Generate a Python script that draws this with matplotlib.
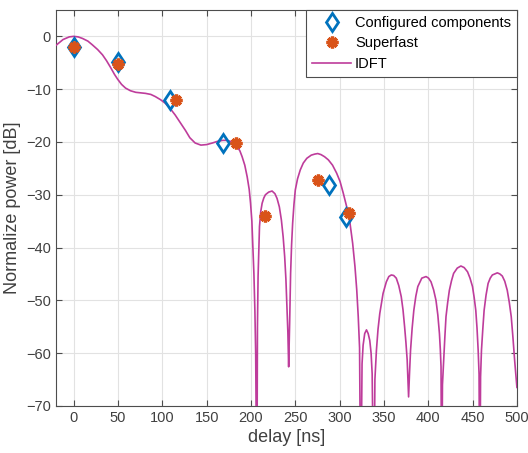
import matplotlib
matplotlib.use('Agg')
import matplotlib.pyplot as plt
import numpy as np

plt.rcParams['font.family'] = ['Liberation Sans', 'DejaVu Sans']

# configured multipath components (delay in ns, power in dB)
comp_delay = [0, 50, 108.5, 168.7, 288.2, 307.6]
comp_power = [-2.1, -4.8, -12.0, -20.2, -28.1, -34.2]

# superfast estimates
sf_delay = [0, 50.4, 115.4, 182.7, 216.3, 276.1, 310.9]
sf_power = [-2.0, -5.2, -12.1, -20.2, -34.0, -27.3, -33.5]

# IDFT power delay profile
idft_delay = [-20, -12, -5, 0, 5, 10, 16, 21, 27, 32.5, 37, 42, 46, 49.5, 54, 58.5, 64, 70, 76, 81,
              87, 92, 98, 103.5, 109, 114.5, 120, 126, 131, 137, 143.5, 150, 156.5, 162, 168, 173,
              177, 181, 184.5, 187.5, 190, 193, 195.7, 198, 199.5, 201, 202, 203.3, 204.4, 205.3,
              206.6, 207.3, 208, 209.6, 211, 212.6, 214.5, 216.3, 220, 223.8, 227, 229.4, 232,
              234.3, 236.3, 238, 239.4, 240.6, 241.6, 242.5, 243.6, 244.7, 245.8, 247, 248.5, 250,
              252.5, 255.6, 259, 263, 268, 272, 275.3, 279, 283, 287.3, 292, 296.6, 300.5, 304.1,
              308, 311.7, 314.7, 317.3, 319.3, 321, 322.5, 323.8, 325.3, 326.5, 328.3, 330.3,
              332.2, 334, 335.5, 336.7, 338.6, 339.8, 341.5, 343.3, 345.3, 349, 352.7, 355.5,
              358.3, 361, 363.9, 366.7, 369.5, 371.5, 373.3, 374.8, 376.2, 377.8, 378.8, 380,
              381.8, 383.7, 386, 388.2, 392.7, 397.5, 400.3, 403.1, 406, 408.7, 410.8, 412.6,
              413.6, 414.4, 415.1, 416, 417.4, 418.7, 420, 421.9, 423.8, 426.2, 428.6, 432.7,
              436.8, 440.5, 444.3, 447.1, 449.9, 451.8, 453.6, 455, 456.3, 457.3, 458.1, 459,
              460, 461.5, 463, 465.2, 467.5, 469.9, 472.3, 477.9, 480.7, 483.5, 486.3, 489.1,
              491.4, 493.6, 495.5, 497.5, 500]
idft_power = [-1.7, -0.6, -0.1, 0, -0.1, -0.4, -0.9, -1.6, -2.5, -3.5, -4.6, -6.0, -7.2, -8.1, -9.1,
              -9.8, -10.3, -10.6, -10.7, -10.8, -11.0, -11.4, -12.0, -12.7, -13.7, -14.9, -16.3,
              -17.8, -19.2, -20.2, -20.6, -20.5, -20.2, -19.9, -19.7, -19.7, -19.9, -20.3, -20.9,
              -21.7, -22.8, -24.4, -26.6, -29.0, -31.6, -35.0, -39.2, -45.0, -51.9, -60.0,
              -90, -55, -45.5, -36, -33.2, -31.6, -30.6, -30.0, -29.5, -29.3, -29.8, -30.7, -32.3,
              -34.8, -38, -41.7, -46, -51.2, -56, -62.6, -54.4, -44.9, -39.5, -35.4, -31.8, -29.1,
              -27, -25.3, -24, -23.1, -22.5, -22.3, -22.2, -22.4, -22.8, -23.4, -24.4, -25.9,
              -27.5, -29.7, -32.3, -35.4, -39.2, -43.6, -48, -53.1, -59, -90, -62, -58.5, -56.3,
              -55.6, -56.3, -57.6, -60, -63.9, -90, -65, -59.5, -55.5, -52.5, -48.7, -46.5, -45.5,
              -45.2, -45.3, -45.8, -47.2, -49.3, -51.8, -55, -58, -61.3, -68.3, -64, -59.5,
              -55.3, -51.9, -49.2, -47.4, -45.8, -45.5, -45.8, -46.5, -48, -50, -52.8, -56.3,
              -59.3, -62.6, -90, -66, -61.3, -57, -53.1, -50.4, -48.1, -46.3, -44.9, -43.9,
              -43.5, -43.8, -44.6, -45.8, -47.4, -49.5, -51.9, -55.3, -59.5, -64, -90, -64.5,
              -59.5, -55.5, -51.9, -49, -46.8, -45.8, -45.2, -44.8, -45, -45.4, -46.4, -48.1,
              -50.4, -53.1, -57, -61.5, -66.5]

fig = plt.figure(figsize=(5.28, 4.53), dpi=100)
ax = fig.add_axes([0.106, 0.104, 0.873, 0.874])

ax.plot(comp_delay, comp_power, linestyle='none', marker='d', markersize=9.5,
        markerfacecolor='none', markeredgecolor='#0072BD', markeredgewidth=2,
        label='Configured components', zorder=4)
ax.plot(sf_delay, sf_power, linestyle='none', marker=(8, 2, 0), markersize=8.5,
        markeredgecolor='#D95319', markeredgewidth=2.4, color='#D95319',
        label='Superfast', zorder=5)
ax.plot(idft_delay, idft_power, color='#BE3C9B', linewidth=1.2, label='IDFT', zorder=3)

ax.set_xlim(-20, 500)
ax.set_ylim(-70, 5)
ax.set_xticks(np.arange(0, 501, 50))
ax.set_yticks(np.arange(-70, 1, 10))
ax.grid(True, color='#e2e2e2', linewidth=0.8)
ax.set_axisbelow(True)
ax.tick_params(direction='in', top=True, right=True, length=4, colors='#4d4d4d',
               labelsize=10.5, labelcolor='#404040')
for sp in ax.spines.values():
    sp.set_color('#4d4d4d')
    sp.set_linewidth(0.8)

ax.set_xlabel('delay [ns]', fontsize=13, color='#404040', labelpad=3)
ax.set_ylabel('Normalize power [dB]', fontsize=13, color='#404040', labelpad=4)

leg = ax.legend(loc='upper right', fontsize=10.5, fancybox=False, framealpha=1,
                edgecolor='#4d4d4d', borderaxespad=0, handlelength=2.7,
                borderpad=0.4, labelspacing=0.45, handletextpad=0.25)
leg.get_frame().set_linewidth(0.8)

fig.savefig('out.png', dpi=100)
